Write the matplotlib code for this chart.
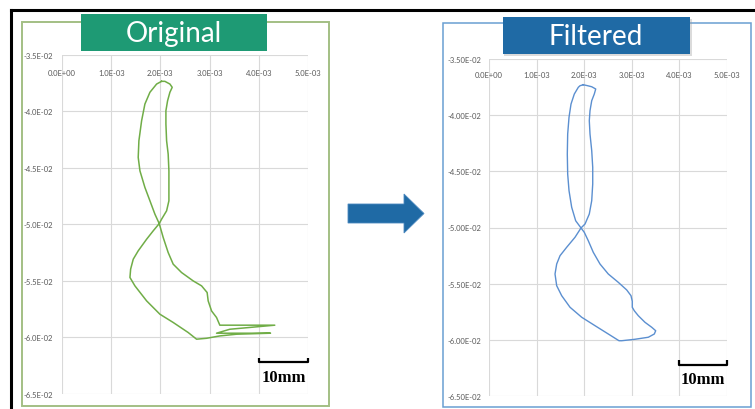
import matplotlib.pyplot as plt
from matplotlib.patches import Rectangle, Polygon

W, H = 755, 410

# traced trajectories (x, y in m)
orig_x = [0.002024, 0.001923, 0.001787, 0.001685, 0.001618, 0.001563, 0.001549, 0.001584,
          0.001685, 0.001787, 0.001888, 0.001976, 0.002057, 0.002158, 0.002260, 0.002430,
          0.002666, 0.002837, 0.002950, 0.002971, 0.003040, 0.003141, 0.003208, 0.004325,
          0.003411, 0.003141, 0.004238, 0.003547, 0.003208, 0.002938, 0.002735, 0.002565,
          0.002260, 0.001990, 0.001720, 0.001482, 0.001381, 0.001395, 0.001448, 0.001549,
          0.001720, 0.001854, 0.001976, 0.002024, 0.002126, 0.002173, 0.002173, 0.002173,
          0.002158, 0.002126, 0.002112, 0.002112, 0.002146, 0.002193, 0.002240, 0.002193,
          0.002091, 0.002024]
orig_y = [-0.03733, -0.03757, -0.03830, -0.03934, -0.04082, -0.04259, -0.04406, -0.04525,
          -0.04672, -0.04790, -0.04908, -0.04992, -0.05115, -0.05248, -0.05351, -0.05425,
          -0.05499, -0.05543, -0.05602, -0.05676, -0.05765, -0.05823, -0.05891, -0.05891,
          -0.05927, -0.05962, -0.05962, -0.05971, -0.05986, -0.06007, -0.06015, -0.05956,
          -0.05867, -0.05794, -0.05676, -0.05543, -0.05469, -0.05395, -0.05307, -0.05233,
          -0.05130, -0.05056, -0.04992, -0.04953, -0.04879, -0.04790, -0.04643, -0.04525,
          -0.04377, -0.04259, -0.04111, -0.03993, -0.03905, -0.03830, -0.03786, -0.03757,
          -0.03733, -0.03733]

filt_x = [0.001981, 0.001912, 0.001876, 0.001792, 0.001723, 0.001681, 0.001653, 0.001645,
          0.001653, 0.001681, 0.001737, 0.001821, 0.001933, 0.002002, 0.002086, 0.002191,
          0.002332, 0.002506, 0.002716, 0.002893, 0.002983, 0.003010, 0.003010, 0.003052,
          0.003136, 0.003277, 0.003418, 0.003502, 0.003473, 0.003347, 0.003067, 0.002788,
          0.002731, 0.002506, 0.002227, 0.001947, 0.001702, 0.001527, 0.001422, 0.001387,
          0.001422, 0.001492, 0.001632, 0.001807, 0.001933, 0.002017, 0.002107, 0.002158,
          0.002179, 0.002179, 0.002158, 0.002122, 0.002107, 0.002122, 0.002158, 0.002212,
          0.002242, 0.002158, 0.002074, 0.001981]
filt_y = [-0.03729, -0.03738, -0.03752, -0.03812, -0.03901, -0.04019, -0.04168, -0.04346,
          -0.04524, -0.04672, -0.04820, -0.04940, -0.05004, -0.05043, -0.05118, -0.05221,
          -0.05325, -0.05414, -0.05488, -0.05556, -0.05607, -0.05657, -0.05710, -0.05741,
          -0.05785, -0.05844, -0.05888, -0.05919, -0.05948, -0.05977, -0.05995, -0.06008,
          -0.06008, -0.05948, -0.05874, -0.05799, -0.05710, -0.05607, -0.05518, -0.05414,
          -0.05325, -0.05251, -0.05176, -0.05087, -0.05004, -0.04969, -0.04880, -0.04761,
          -0.04613, -0.04464, -0.04316, -0.04168, -0.04049, -0.03960, -0.03871, -0.03812,
          -0.03767, -0.03747, -0.03738, -0.03729]

x_ticks = [0.0, 0.001, 0.002, 0.003, 0.004, 0.005]
x_labels = ['0.0E+00', '1.0E-03', '2.0E-03', '3.0E-03', '4.0E-03', '5.0E-03']
y_ticks = [-0.035, -0.040, -0.045, -0.050, -0.055, -0.060, -0.065]
y_labels_orig = ['-3.5E-02', '-4.0E-02', '-4.5E-02', '-5.0E-02', '-5.5E-02', '-6.0E-02', '-6.5E-02']
y_labels_filt = ['-3.50E-02', '-4.00E-02', '-4.50E-02', '-5.00E-02', '-5.50E-02', '-6.00E-02', '-6.50E-02']


def px_rect(x0, y0, x1, y1):
    return [x0 / W, 1 - y1 / H, (x1 - x0) / W, (y1 - y0) / H]


def panel(fig, box, xs, ys, ylabels, color, lw, ypad, xpad):
    ax = fig.add_axes(px_rect(*box))
    ax.plot(xs, ys, color=color, lw=lw, solid_joinstyle='round')
    ax.set_xlim(0, 0.005)
    ax.set_ylim(-0.065, -0.035)
    ax.set_xticks(x_ticks)
    ax.set_xticklabels(x_labels)
    ax.set_yticks(y_ticks)
    ax.set_yticklabels(ylabels)
    ax.grid(True, color='#d9d9d9', lw=0.8)
    ax.set_axisbelow(True)
    for s in ax.spines.values():
        s.set_visible(False)
    ax.tick_params(axis='x', top=True, labeltop=True, bottom=False, labelbottom=False,
                   length=0, pad=xpad, labelsize=5.5, labelcolor='#595959')
    ax.tick_params(axis='y', length=0, pad=ypad, labelsize=5.5, labelcolor='#595959')
    for lab in ax.get_xticklabels() + ax.get_yticklabels():
        lab.set_family('Lato')
    # 10 mm scale bar
    ax.plot([0.004, 0.004, 0.005, 0.005], [-0.0618, -0.0622, -0.0622, -0.0618],
            color='black', lw=1.6, solid_capstyle='butt', clip_on=False)
    ax.text(0.0045, -0.0635, '10mm', ha='center', va='center', fontsize=12,
            fontweight='bold', family='Liberation Serif', color='black')
    return ax


fig = plt.figure(figsize=(W / 100, H / 100), dpi=100)

# outer frame
fig.add_artist(plt.Line2D([11 / W, 11 / W], [0, 1 - 11 / H], color='black', lw=2.2,
                          transform=fig.transFigure))
fig.add_artist(plt.Line2D([11 / W, 1], [1 - 11 / H, 1 - 11 / H], color='black', lw=2.2,
                          transform=fig.transFigure))

# panel borders
fig.add_artist(Rectangle((22 / W, 1 - 407 / H), 307 / W, 384 / H, fill=False,
                         ec='#a3bf84', lw=1.4, transform=fig.transFigure))
fig.add_artist(Rectangle((443 / W, 1 - 408 / H), 308 / W, 384 / H, fill=False,
                         ec='#6a9fd2', lw=1.1, transform=fig.transFigure))

panel(fig, (62, 56, 308, 395), orig_x, orig_y, y_labels_orig, '#70ad47', 1.1, 6.5, -15)
panel(fig, (489, 60, 727, 397), filt_x, filt_y, y_labels_filt, '#5b8fd0', 1.0, 5.5, -14)

# title boxes
fig.add_artist(Rectangle((81 / W, 1 - 52 / H), 186 / W, 37 / H, fc='#1e9a74', ec='none',
                         transform=fig.transFigure))
fig.text(174 / W, 1 - 34 / H, 'Original', ha='center', va='center', color='white',
         fontsize=20, family='Lato')
fig.add_artist(Rectangle((504.5 / W, 1 - 56.5 / H), 187 / W, 37 / H, fc='#9a9a9a', ec='none',
                         alpha=0.35, transform=fig.transFigure))
fig.add_artist(Rectangle((503 / W, 1 - 55 / H), 187 / W, 37 / H, fc='#1f6aa5', ec='none',
                         transform=fig.transFigure))
fig.text(596 / W, 1 - 37 / H, 'Filtered', ha='center', va='center', color='white',
         fontsize=20, family='Lato')

# arrow between panels
arrow_px = [(348, 205), (404, 205), (404, 195), (424, 214.5), (404, 234), (404, 224), (348, 224)]
fig.add_artist(Polygon([(x / W, 1 - y / H) for x, y in arrow_px], closed=True,
                       fc='#1f6aa5', ec='#4a88bf', lw=0.6, transform=fig.transFigure))

fig.savefig('out.png', dpi=100, facecolor='white')
